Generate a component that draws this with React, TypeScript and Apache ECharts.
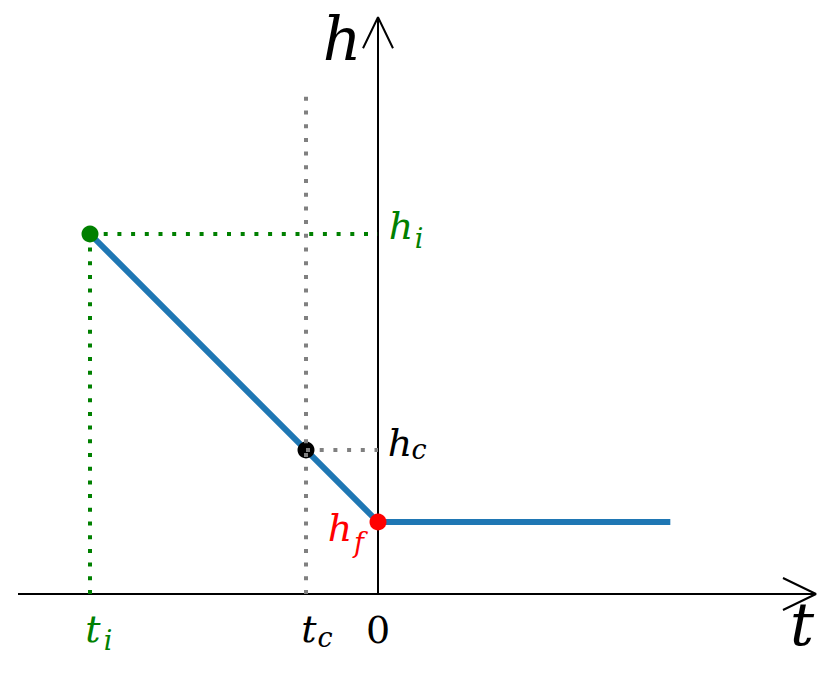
import React, { useEffect, useRef } from "react";
import * as echarts from "echarts";

// Key times and heights (data units)
const tKeys = [-4, -1, 0]; // t_i, t_c, 0
const hKeys = [5, 2, 1]; // h_i, h_c, h_f
const curveT = [-4, 0, 4.06];
const curveH = [5, 1, 1];
const hTop = 7; // top of gray dotted guide at t_c
const tAxisRange = [-5, 6.083];
const hAxisTop = 8.01;

const FONT = "DejaVu Serif";

export default function App() {
  const ref = useRef<HTMLDivElement>(null);
  useEffect(() => {
    if (!ref.current) return;
    const chart = echarts.init(ref.current, null, { renderer: "svg" });
    const [ti, tc, t0] = tKeys;
    const [hi, hc, hf] = hKeys;
    const curve = curveT.map((t, i) => [t, curveH[i]]);
    const lineSeries = (name: string, data: number[][], color: string, width: number, z: number, type: any = "solid") => ({
      name,
      type: "line",
      data,
      symbol: "none",
      silent: true,
      z,
      lineStyle: { color, width, type, cap: "butt", opacity: 1 },
    });
    const aT = tAxisRange[1];
    const lbl = (t: number, h: number, text: string, color: string, size: number, offset: number[], italic = true) => ({
      value: [t, h],
      itemStyle: { opacity: 1 },
      label: {
        show: true,
        formatter: text,
        color,
        opacity: 1,
        fontSize: size,
        fontFamily: FONT,
        fontStyle: italic ? "italic" : "normal",
        align: "center",
        verticalAlign: "middle",
        position: "inside",
        offset,
      },
    });
    const option: any = {
      animation: false,
      backgroundColor: "#ffffff",
      grid: { left: 0, right: 3, top: 0, bottom: 11 },
      xAxis: { type: "value", min: -5.25, max: 6.25, show: false },
      yAxis: { type: "value", min: -1, max: 8.25, show: false },
      series: [
        lineSeries("tAxis", [[tAxisRange[0], 0], [aT, 0]], "#000", 2, 1),
        lineSeries("tArrow", [[aT - 0.458, 0.222], [aT, 0], [aT - 0.458, -0.222]], "#000", 2, 1),
        lineSeries("hAxis", [[t0, 0], [t0, hAxisTop]], "#000", 2, 1),
        lineSeries("hArrow", [[-0.208, hAxisTop - 0.43], [t0, hAxisTop], [0.208, hAxisTop - 0.43]], "#000", 2, 1),
        lineSeries("curve", curve, "#1f77b4", 6, 2),
        {
          name: "points",
          type: "scatter",
          z: 3,
          symbolSize: 17,
          itemStyle: { opacity: 1 },
          data: [
            { value: [ti, hi], itemStyle: { color: "#008000", opacity: 1 } },
            { value: [tc, hc], itemStyle: { color: "#000000", opacity: 1 } },
            { value: [t0, hf], itemStyle: { color: "#ff0000", opacity: 1 } },
          ],
        },
        lineSeries("greenV", [[ti, 0], [ti, hi]], "#008000", 4, 4, [4, 9.7]),
        lineSeries("greenH", [[ti, hi], [t0, hi]], "#008000", 4, 4, [4, 9.7]),
        lineSeries("grayV", [[tc, 0], [tc, hTop]], "#808080", 4, 4, [4, 9.7]),
        lineSeries("grayH", [[tc, hc], [t0, hc]], "#808080", 4, 4, [4, 9.7]),
        {
          name: "labels",
          type: "scatter",
          z: 5,
          symbolSize: 0,
          silent: true,
          itemStyle: { opacity: 1 },
          data: [
            lbl(t0, hAxisTop, "h", "#000", 60, [-36, 22]),
            lbl(aT, 0, "t", "#000", 60, [-14, 30]),
            lbl(t0, hi, "h", "#008000", 38, [23, -8]),
            lbl(t0, hi, "i", "#008000", 27, [41, 4]),
            lbl(t0, hc, "h", "#000", 38, [22, -7]),
            lbl(t0, hc, "c", "#000", 27, [41, -1]),
            lbl(t0, hf, "h", "#ff0000", 38, [-38, 6]),
            lbl(t0, hf, "f", "#ff0000", 27, [-19, 20]),
            lbl(ti, 0, "t", "#008000", 38, [3, 35]),
            lbl(ti, 0, "i", "#008000", 27, [18, 46]),
            lbl(tc, 0, "t", "#000", 38, [3, 35]),
            lbl(tc, 0, "c", "#000", 27, [19, 43]),
            lbl(t0, 0, "0", "#000", 38, [0, 36], false),
          ],
        },
      ],
    };
    chart.setOption(option);
    return () => chart.dispose();
  }, []);
  return (
    <div
      ref={ref}
      style={{ position: "fixed", left: 0, top: 0, width: 831, height: 677, background: "#fff" }}
    />
  );
}
